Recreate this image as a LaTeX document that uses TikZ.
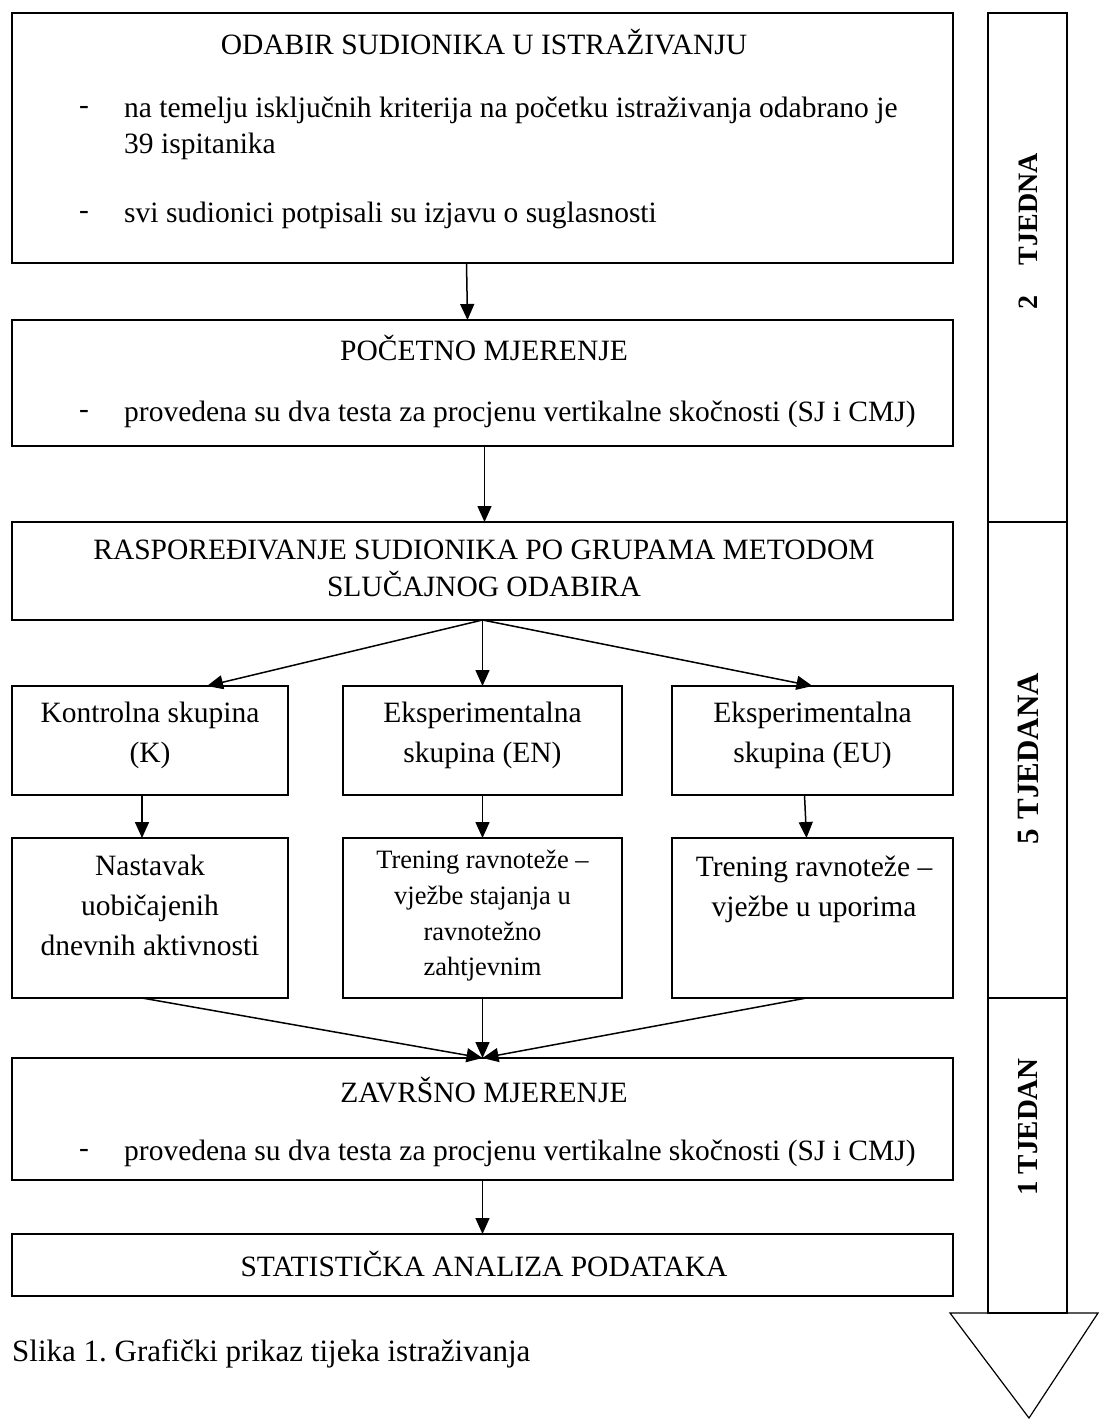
\documentclass[tikz,border=0pt]{standalone}
\usepackage{fontspec}
\setmainfont{Liberation Serif}
\usetikzlibrary{positioning,arrows.meta}
\frenchspacing

\begin{document}
\begin{tikzpicture}[x=1pt,y=-1pt,font=\fontsize{29.5}{37}\selectfont,
	box/.style={draw,line width=1.5pt,inner sep=0pt,outer sep=0pt},
	txt/.style={inner sep=0pt,align=center},
	body/.style={txt,font=\fontsize{29.5}{40}\selectfont},
	arr/.style={line width=1.5pt,-{Triangle[length=16pt,width=14pt]}},
	week/.style={inner sep=0pt,rotate=90}]
	\useasboundingbox (0,0) rectangle (1099,1420);
	
	% boxes
	\node[box,minimum width=941pt,minimum height=250pt] (odabir) at (482.5,138) {};
	\node[box,minimum width=941pt,minimum height=126pt] (pocetno) at (482.5,383) {};
	\node[box,minimum width=941pt,minimum height=98pt] (raspored) at (482.5,571) {};
	\node[box,minimum width=276pt,minimum height=109pt] (kontrola) at (150,740.5) {};
	\node[box,minimum width=279pt,minimum height=109pt] (ekspN) at (482.5,740.5) {};
	\node[box,minimum width=281pt,minimum height=109pt] (ekspU) at (812.5,740.5) {};
	\node[box,minimum width=276pt,minimum height=160pt] (nastavak) at (150,918) {};
	\node[box,minimum width=279pt,minimum height=160pt] (treningN) at (482.5,918) {};
	\node[box,minimum width=281pt,minimum height=160pt] (treningU) at (812.5,918) {};
	\node[box,minimum width=941pt,minimum height=122pt] (zavrsno) at (482.5,1119) {};
	\node[box,minimum width=941pt,minimum height=62pt] (analiza) at (482.5,1265) {};
	
	% texts
	\node[txt] (odabirT) at (484,42) {ODABIR SUDIONIKA U ISTRAŽIVANJU};
	\node[body] (crtaA) at (84,110) {-};
	\node[body,anchor=west,align=left,font=\fontsize{29.5}{36}\selectfont] (odabirA) at (124,128) {na temelju isključnih kriterija na početku istraživanja odabrano je\\39 ispitanika};
	\node[body] (crtaB) at (84,215) {-};
	\node[body,anchor=west] (odabirB) at (124,215) {svi sudionici potpisali su izjavu o suglasnosti};
	\node[txt] (pocetnoT) at (484,348) {POČETNO MJERENJE};
	\node[body] (crtaC) at (84,414) {-};
	\node[body,anchor=west] (pocetnoA) at (124,414) {provedena su dva testa za procjenu vertikalne skočnosti (SJ i CMJ)};
	\node[txt] (rasporedT) at (484,568) {RASPOREĐIVANJE SUDIONIKA PO GRUPAMA METODOM\\SLUČAJNOG ODABIRA};
	\node[body] (kontrolaT) at (150,735) {Kontrolna skupina\\(K)};
	\node[body] (ekspNT) at (482.5,735) {Eksperimentalna\\skupina (EN)};
	\node[body] (ekspUT) at (812.5,735) {Eksperimentalna\\skupina (EU)};
	\node[body] (nastavakT) at (150,905) {Nastavak\\uobičajenih\\dnevnih aktivnosti};
	\node[body,font=\fontsize{26.5}{35.7}\selectfont] (treningNT) at (482.5,916) {Trening ravnoteže --\\vježbe stajanja u\\ravnotežno\\zahtjevnim};
	\node[body] (treningUT) at (814,889) {Trening ravnoteže --\\vježbe u uporima};
	\node[txt] (zavrsnoT) at (484,1090) {ZAVRŠNO MJERENJE};
	\node[body] (crtaD) at (84,1153) {-};
	\node[body,anchor=west] (zavrsnoA) at (124,1153) {provedena su dva testa za procjenu vertikalne skočnosti (SJ i CMJ)};
	\node[txt] (analizaT) at (484,1264) {STATISTIČKA ANALIZA PODATAKA};
	\node[txt,anchor=west,font=\fontsize{31}{37}\selectfont] (slika) at (12,1354) {Slika 1. Grafički prikaz tijeka istraživanja};
	
	% arrows
	\draw[arr] ([xshift=-16pt]odabir.south) -- ([xshift=-15pt]pocetno.north);
	\draw[arr] ([xshift=2pt]pocetno.south) -- ([xshift=2pt]raspored.north);
	\draw[arr] (raspored.south) -- ([xshift=57pt]kontrola.north);
	\draw[arr] (raspored.south) -- (ekspN.north);
	\draw[arr] (raspored.south) -- (ekspU.north);
	\draw[arr] ([xshift=-8pt]kontrola.south) -- ([xshift=-8pt]nastavak.north);
	\draw[arr] (ekspN.south) -- (treningN.north);
	\draw[arr] ([xshift=-8pt]ekspU.south) -- ([xshift=-6pt]treningU.north);
	\draw[arr] ([xshift=-8pt]nastavak.south) -- (zavrsno.north);
	\draw[arr] (treningN.south) -- (zavrsno.north);
	\draw[arr] ([xshift=-6pt]treningU.south) -- (zavrsno.north);
	\draw[arr] (zavrsno.south) -- (analiza.north);
	
	% time line
	\node[box,minimum width=79pt,minimum height=509pt] (tj2) at (1027.5,267.5) {};
	\node[box,minimum width=79pt,minimum height=476pt] (tj5) at (1027.5,760) {};
	\node[box,minimum width=79pt,minimum height=315pt] (tj1) at (1027.5,1155.5) {};
	\node[week,font=\fontsize{28}{30}\selectfont\bfseries] (tj2T) at (1028,231) {2\hspace{30pt}TJEDNA};
	\node[week,font=\fontsize{31}{34}\selectfont\bfseries] (tj5T) at (1028,759) {5\hspace{10pt}TJEDANA};
	\node[week,font=\fontsize{29}{32}\selectfont\bfseries] (tj1T) at (1028,1127) {1 TJEDAN};
	\draw[line width=1.2pt] (tj1.south west) -- (950,1313) -- (1029,1418) -- (1098,1313) -- (tj1.south east);
\end{tikzpicture}
\end{document}
